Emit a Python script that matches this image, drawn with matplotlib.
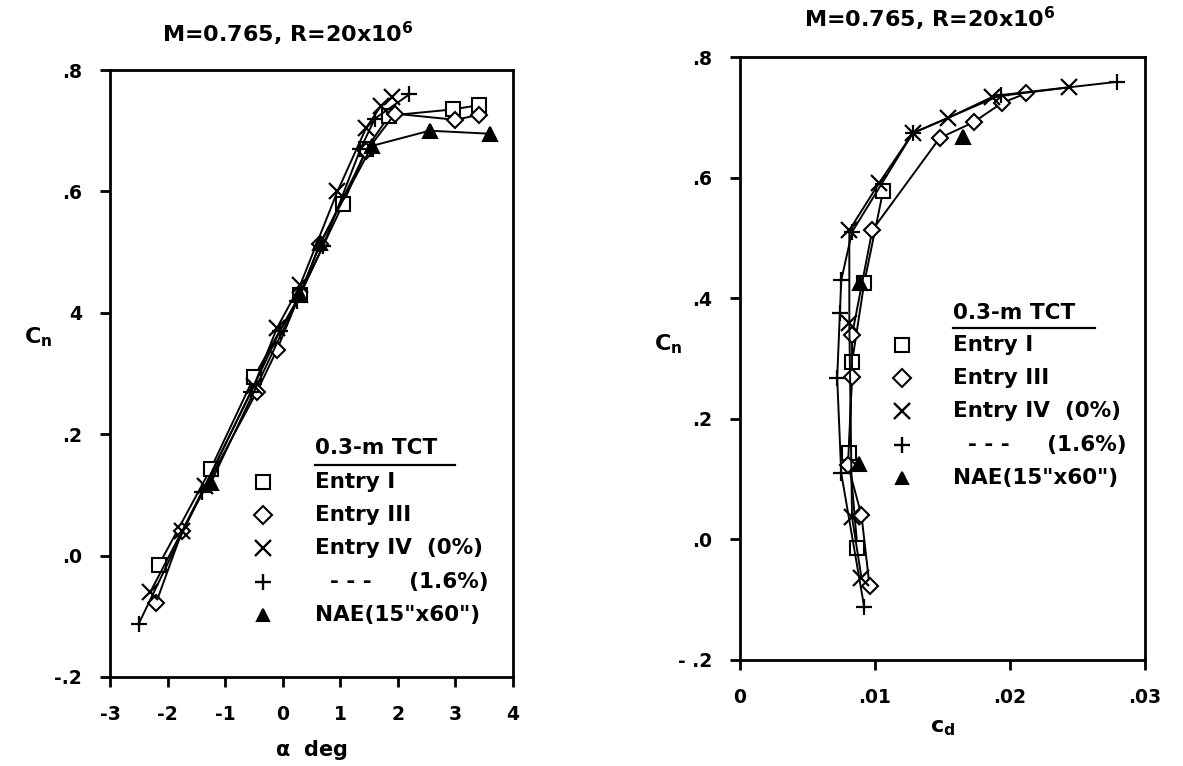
import matplotlib
matplotlib.use("Agg")
import matplotlib.pyplot as plt

plt.rcParams['font.family'] = ['DejaVu Sans']
plt.rcParams['font.weight'] = 'bold'
plt.rcParams['mathtext.fontset'] = 'custom'
plt.rcParams['mathtext.rm'] = 'DejaVu Sans:bold'
plt.rcParams['mathtext.it'] = 'DejaVu Sans:bold'
plt.rcParams['mathtext.bf'] = 'DejaVu Sans:bold'

title_text = "M=0.765, R=20x10$^{6}$"
legend_title = "0.3-m TCT"
series_labels = ["Entry I", "Entry III", "Entry IV  (0%)", "  - - -     (1.6%)", "NAE(15\"x60\")"]
series_markers = ["s", "D", "x", "+", "^"]

# ---- left panel: Cn vs alpha ----
alpha_e1 = [-2.15, -1.25, -0.5, 0.3, 1.05, 1.45, 1.85, 2.95, 3.4]
cn_a_e1 = [-0.015, 0.143, 0.294, 0.43, 0.58, 0.67, 0.725, 0.735, 0.742]
alpha_e3 = [-2.2, -1.75, -0.45, -0.1, 0.65, 1.45, 1.95, 3.0, 3.4]
cn_a_e3 = [-0.078, 0.04, 0.27, 0.339, 0.513, 0.666, 0.728, 0.718, 0.726]
alpha_e4 = [-2.3, -1.75, -1.35, -0.5, -0.1, 0.3, 0.95, 1.45, 1.7, 1.9]
cn_a_e4 = [-0.06, 0.04, 0.115, 0.28, 0.375, 0.445, 0.60, 0.705, 0.74, 0.755]
alpha_e4b = [-2.5, -1.4, -0.55, -0.05, 0.25, 0.7, 1.35, 1.6, 2.2]
cn_a_e4b = [-0.112, 0.105, 0.27, 0.37, 0.42, 0.51, 0.67, 0.72, 0.76]
alpha_nae = [-1.25, 0.3, 0.65, 1.55, 2.55, 3.6]
cn_a_nae = [0.12, 0.43, 0.515, 0.675, 0.70, 0.695]

# ---- right panel: Cn vs cd ----
cd_e1 = [0.0087, 0.0081, 0.0083, 0.0092, 0.0106]
cn_d_e1 = [-0.015, 0.143, 0.294, 0.425, 0.578]
cd_e3 = [0.0096, 0.0090, 0.0080, 0.0083, 0.0083, 0.0098, 0.0148, 0.0173, 0.0194, 0.0212]
cn_d_e3 = [-0.078, 0.04, 0.123, 0.27, 0.339, 0.513, 0.666, 0.692, 0.724, 0.74]
cd_e4 = [0.0090, 0.0083, 0.0081, 0.0081, 0.0103, 0.0128, 0.0154, 0.0187, 0.0244]
cn_d_e4 = [-0.064, 0.037, 0.359, 0.513, 0.591, 0.674, 0.699, 0.734, 0.75]
cd_e4b = [0.0092, 0.0075, 0.0072, 0.0074, 0.0075, 0.0083, 0.0128, 0.0193, 0.0279]
cn_d_e4b = [-0.112, 0.11, 0.268, 0.375, 0.43, 0.51, 0.674, 0.737, 0.759]
cd_nae = [0.0088, 0.0089, 0.0165]
cn_d_nae = [0.125, 0.425, 0.667]

left_xticks = [-3, -2, -1, 0, 1, 2, 3, 4]
left_xticklabels = ["-3", "-2", "-1", "0", "1", "2", "3", "4"]
left_yticks = [-0.2, 0.0, 0.2, 0.4, 0.6, 0.8]
left_yticklabels = ["-.2", ".0", ".2", "4", ".6", ".8"]
right_xticks = [0, 0.01, 0.02, 0.03]
right_xticklabels = ["0", ".01", ".02", ".03"]
right_yticks = [-0.2, 0.0, 0.2, 0.4, 0.6, 0.8]
right_yticklabels = ["- .2", ".0", ".2", ".4", ".6", ".8"]

fig = plt.figure(figsize=(11.83, 7.66), dpi=100)
axL = fig.add_axes([0.093, 0.1162, 0.3407, 0.7924])
axR = fig.add_axes([0.6255, 0.1384, 0.3424, 0.787])

mk = dict(color='black', markersize=10, markerfacecolor='white', markeredgecolor='black',
          markeredgewidth=1.5, linewidth=1.4)

def draw(ax, data, lines):
    for (x, y), m, ln in zip(data, series_markers, lines):
        kw = dict(mk)
        if m == '^':
            kw['markerfacecolor'] = 'black'
            kw['markersize'] = 10
        if m == 'D':
            kw['markersize'] = 8
        if m in ('x', '+'):
            kw['markersize'] = 12
            kw['markeredgewidth'] = 1.6
        ax.plot(x, y, marker=m, linestyle='-' if ln else 'none', **kw)

draw(axL, [(alpha_e1, cn_a_e1), (alpha_e3, cn_a_e3), (alpha_e4, cn_a_e4),
           (alpha_e4b, cn_a_e4b), (alpha_nae, cn_a_nae)], [True] * 5)
draw(axR, [(cd_e1, cn_d_e1), (cd_e3, cn_d_e3), (cd_e4, cn_d_e4),
           (cd_e4b, cn_d_e4b), (cd_nae, cn_d_nae)], [True, True, True, True, False])

axL.set_xlim(-3, 4)
axL.set_ylim(-0.2, 0.8)
axR.set_xlim(0, 0.03)
axR.set_ylim(-0.2, 0.8)

axL.set_xticks(left_xticks)
axL.set_xticklabels(left_xticklabels)
axL.set_yticks(left_yticks)
axL.set_yticklabels(left_yticklabels)
axR.set_xticks(right_xticks)
axR.set_xticklabels(right_xticklabels)
axR.set_yticks(right_yticks)
axR.set_yticklabels(right_yticklabels)

for ax in (axL, axR):
    for s in ax.spines.values():
        s.set_linewidth(2.0)
    ax.tick_params(direction='out', length=7, width=2, labelsize=13.5, pad=13)
    for lab in ax.get_xticklabels() + ax.get_yticklabels():
        lab.set_fontweight('bold')

axL.set_xlabel(r"$\alpha$  deg", fontsize=15, fontweight='bold', labelpad=10)
axR.set_xlabel(r"c$_{\mathrm{d}}$", fontsize=16, fontweight='bold', labelpad=8)
fig.text(0.020, 0.56, r"C$_{\mathrm{n}}$", fontsize=16, fontweight='bold', ha='left', va='center')
fig.text(0.553, 0.55, r"C$_{\mathrm{n}}$", fontsize=16, fontweight='bold', ha='left', va='center')

fig.text(288 / 1183, 1 - 34 / 766, title_text, fontsize=16, fontweight='bold', ha='center', va='center')
fig.text(930 / 1183, 1 - 19 / 766, title_text, fontsize=16, fontweight='bold', ha='center', va='center')

def legend(ax, mx, tx, ty, ys, ux1, uy):
    ax.text(tx, ty, legend_title, transform=ax.transAxes, fontsize=15.5, fontweight='bold',
            ha='left', va='center')
    ax.plot([tx, ux1], [uy, uy], transform=ax.transAxes, color='black', linewidth=1.6,
            clip_on=False)
    for y, lab, m in zip(ys, series_labels, series_markers):
        kw = dict(mk)
        kw['linestyle'] = 'none'
        if m == '^':
            kw['markerfacecolor'] = 'black'
            kw['markersize'] = 8
        if m == 'D':
            kw['markersize'] = 9
        if m in ('x', '+'):
            kw['markersize'] = 11
            kw['markeredgewidth'] = 1.7
        ax.plot([mx], [y], marker=m, transform=ax.transAxes, clip_on=False, **kw)
        ax.text(tx, y, lab, transform=ax.transAxes, fontsize=15.5, fontweight='bold',
                ha='left', va='center')

legend(axL, 0.38, 0.509, 0.377, [0.321, 0.267, 0.2125, 0.1565, 0.102], 0.856, 0.350)
legend(axR, 0.40, 0.526, 0.575, [0.522, 0.468, 0.413, 0.357, 0.302], 0.877, 0.551)

fig.savefig("out.png", dpi=100)
